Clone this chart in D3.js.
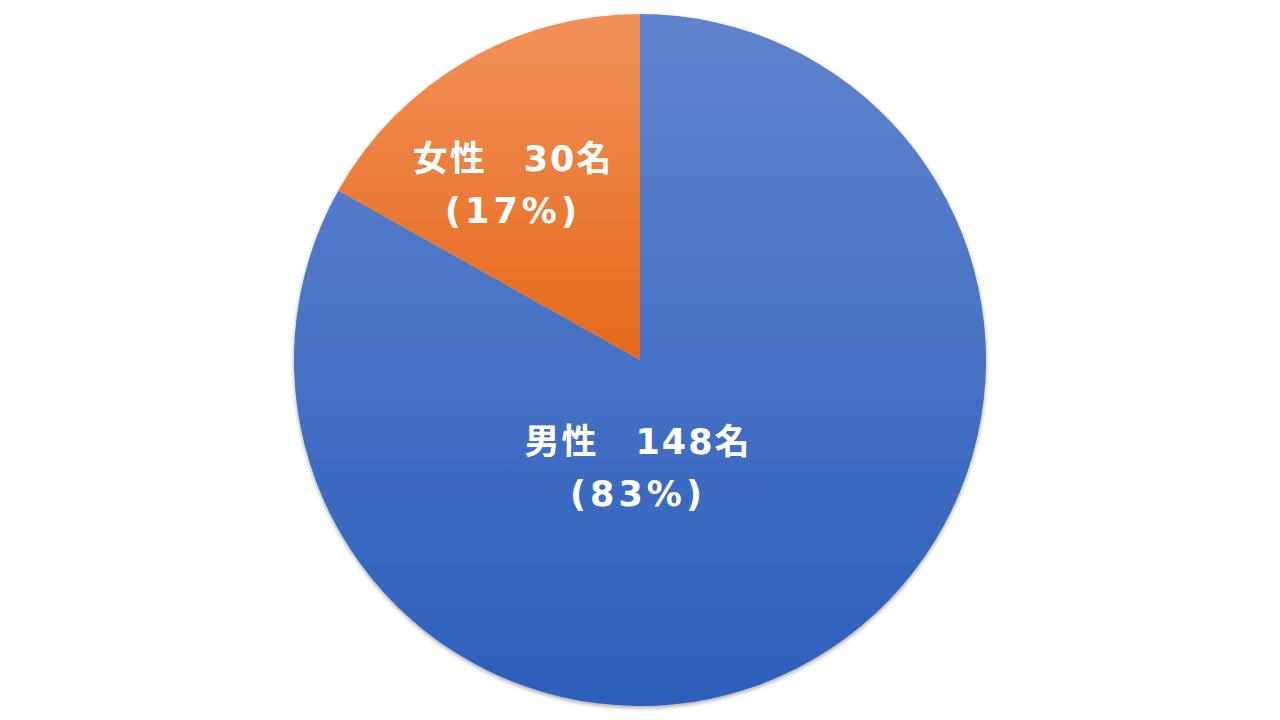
<!DOCTYPE html>
<html>
<head>
<meta charset="utf-8">
<script src="https://cdn.jsdelivr.net/npm/d3@7"></script>
<style>
body{margin:0;background:#fff;}
</style>
</head>
<body>
<div id="chart"></div>
<script>
var width = 1280,
height = 720,
cx = 640,
cy = 360,
radius = 346;

// data
var categories = ["男性", "女性"];
var counts = [148, 30];
var percents = ["83%", "17%"];

// top / bottom gradient colours per slice
var topColors = ["#6183cd", "#f19159"];
var bottomColors = ["#2c5fbb", "#e4691a"];
// label offsets from centre
var labelPos = [[-2, 107], [-127, -176]];

var svg = d3.select("#chart").append("svg")
	.attr("width", width)
	.attr("height", height);

var defs = svg.append("defs");

var shadow = defs.append("filter").attr("id", "shadow")
	.attr("x", "-10%").attr("y", "-10%").attr("width", "120%").attr("height", "120%");
shadow.append("feGaussianBlur").attr("in", "SourceAlpha").attr("stdDeviation", 2);
shadow.append("feOffset").attr("dx", 0).attr("dy", 2).attr("result", "b");
shadow.append("feComponentTransfer").append("feFuncA").attr("type", "linear").attr("slope", 0.35);
var merge = shadow.append("feMerge");
merge.append("feMergeNode");
merge.append("feMergeNode").attr("in", "SourceGraphic");

var pie = d3.pie().sort(null).value(function(d){ return d; });
var arcs = pie(counts);
var arc = d3.arc().innerRadius(0).outerRadius(radius);

arcs.forEach(function(a, i){
	// vertical gradient over each slice
	var g = defs.append("linearGradient").attr("id", "grad" + i)
		.attr("x1", 0).attr("y1", 0).attr("x2", 0).attr("y2", 1);
	g.append("stop").attr("offset", "0%").attr("stop-color", topColors[i]);
	g.append("stop").attr("offset", "100%").attr("stop-color", bottomColors[i]);
});

var g = svg.append("g")
	.attr("transform", "translate(" + cx + "," + cy + ")");

g.append("g").attr("filter", "url(#shadow)")
	.selectAll("path")
	.data(arcs)
	.enter().append("path")
	.attr("d", arc)
	.attr("fill", function(d, i){ return "url(#grad" + i + ")"; });

var labels = g.selectAll("text.lab")
	.data(arcs)
	.enter().append("text")
	.attr("class", "lab")
	.attr("text-anchor", "middle")
	.attr("fill", "#ffffff")
	.style("font-family", "'DejaVu Sans', 'Noto Sans CJK JP', sans-serif")
	.style("font-weight", "bold")
	.style("font-size", "35px")
	.style("letter-spacing", "2px")
	.attr("transform", function(d, i){ return "translate(" + labelPos[i][0] + "," + labelPos[i][1] + ")"; });

labels.append("tspan")
	.attr("x", 0).attr("y", -13)
	.text(function(d, i){ return categories[i] + "\u3000" + counts[i] + "名"; });
labels.append("tspan")
	.attr("x", 0).attr("y", 39)
	.style("letter-spacing", "4px")
	.text(function(d, i){ return "(" + percents[i] + ")"; });
</script>
</body>
</html>
